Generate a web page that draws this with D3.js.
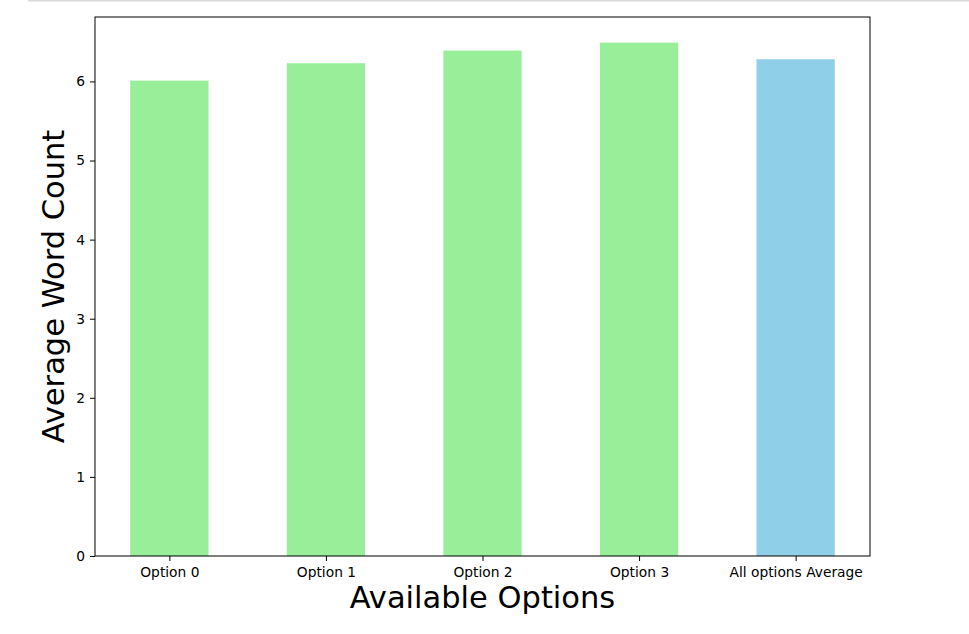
<!DOCTYPE html>
<html>
<head>
<meta charset="utf-8">
<script src="https://cdn.jsdelivr.net/npm/d3@7"></script>
<style>
  body { margin: 0; background: #fff; }
  svg { font-family: "DejaVu Sans", sans-serif; }
</style>
</head>
<body>
<script>
var categories = ["Option 0", "Option 1", "Option 2", "Option 3", "All options Average"]
var values = [6.01, 6.23, 6.39, 6.49, 6.28]
var colors = ["#98ee99", "#98ee99", "#98ee99", "#98ee99", "#8fcfe8"]
var yTicks = [0, 1, 2, 3, 4, 5, 6]

var W = 969, H = 634
var m = {left: 95, right: 870, top: 17, bottom: 556}

var svg = d3.select("body").append("svg")
  .attr("width", W).attr("height", H)

// grey strip at the very top of the page
svg.append("line")
  .attr("x1", 28).attr("x2", W).attr("y1", 0.5).attr("y2", 0.5)
  .attr("stroke", "#d9d9d9").attr("stroke-width", 2)

var x = d3.scaleLinear().domain([-0.475, 4.475]).range([m.left, m.right])
var y = d3.scaleLinear().domain([0, 6.8145]).range([m.bottom, m.top])
var bw = 0.5

svg.selectAll("rect.bar")
  .data(values).enter()
  .append("rect")
  .attr("class", "bar")
  .attr("x", function(d, i) { return x(i - bw / 2) })
  .attr("width", function() { return x(bw) - x(0) })
  .attr("y", function(d) { return y(d) })
  .attr("height", function(d) { return y(0) - y(d) })
  .attr("fill", function(d, i) { return colors[i] })

var xAxis = svg.append("g")
  .attr("transform", "translate(0," + m.bottom + ")")
  .call(d3.axisBottom(x).tickValues(d3.range(categories.length))
    .tickFormat(function(i) { return categories[i] })
    .tickSize(5).tickPadding(6))
xAxis.select(".domain").remove()

var yAxis = svg.append("g")
  .attr("transform", "translate(" + m.left + ",0)")
  .call(d3.axisLeft(y).tickValues(yTicks).tickFormat(d3.format("d"))
    .tickSize(5).tickPadding(5))
yAxis.select(".domain").remove()

svg.selectAll(".tick text")
  .attr("font-family", "DejaVu Sans").attr("font-size", "13.8px").attr("fill", "#000")
svg.selectAll(".tick line").attr("stroke", "#000")

// frame
svg.append("rect")
  .attr("x", m.left).attr("y", m.top)
  .attr("width", m.right - m.left).attr("height", m.bottom - m.top)
  .attr("fill", "none").attr("stroke", "#000").attr("stroke-width", 1)

svg.append("text")
  .attr("x", (m.left + m.right) / 2).attr("y", 608)
  .attr("text-anchor", "middle")
  .attr("font-size", "30.5px")
  .text("Available Options")

svg.append("text")
  .attr("transform", "translate(64," + ((m.top + m.bottom) / 2) + ") rotate(-90)")
  .attr("text-anchor", "middle")
  .attr("font-size", "30.5px")
  .text("Average Word Count")
</script>
</body>
</html>
